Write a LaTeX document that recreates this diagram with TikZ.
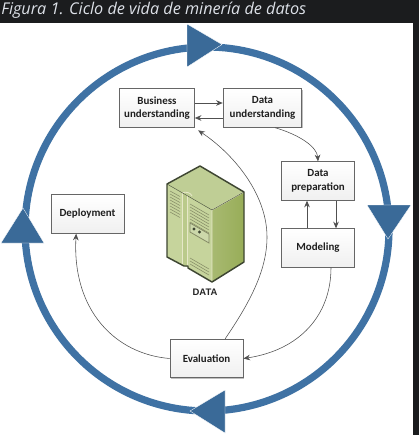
\documentclass[tikz,border=0pt]{standalone}
\usepackage{fontspec}
\setmainfont{Carlito}
\newfontfamily\titlefont{Open Sans}
\newfontfamily\datafont{Liberation Sans}
\usetikzlibrary{arrows.meta,shadows,calc}
\definecolor{bgdark}{HTML}{1B1C1E}
\definecolor{ringblue}{HTML}{3F72A4}
\definecolor{triblue}{HTML}{3A6A98}
\definecolor{titlecol}{HTML}{DDE1E8}
\definecolor{linkgray}{HTML}{505050}
\definecolor{srvline}{HTML}{3E4632}
\definecolor{srvtop}{HTML}{BFCE95}
\definecolor{srvfront}{HTML}{C6D49C}
\definecolor{srvside}{HTML}{98AD58}
\definecolor{srvedge}{HTML}{E6E8C8}
\definecolor{srvlouv}{HTML}{858B66}
\tikzset{
  x=0.75pt,y=-0.75pt,
  procbox/.style={draw=black!60,line width=0.6pt,top color=white,bottom color=black!6,
    minimum width=#1,minimum height=28.9pt,inner sep=0pt,align=center,
    font=\fontsize{8.2}{10.2}\selectfont\bfseries,text=black!88,
    drop shadow={shadow xshift=0.7pt,shadow yshift=-0.7pt,opacity=0.25,fill=black}},
  procbox/.default=54.75pt,
  link/.style={draw=linkgray,line width=0.6pt,-{Stealth[length=5pt,width=4.2pt]}},
  thinlink/.style={draw=linkgray,line width=0.42pt,-{Stealth[length=5pt,width=4.2pt]}},
  ringtip/.style={fill=triblue,draw=white,line width=0.25pt,line join=miter},
  louver/.style={draw=srvlouv,line width=0.4pt},
}
\begin{document}
\begin{tikzpicture}
\useasboundingbox (0,0) rectangle (419,435);
\fill[bgdark] (0,0) rectangle (419,435);
\fill[white] (0,23) rectangle (413,435);
\node[anchor=west,inner sep=0pt,text=titlecol,font=\titlefont\itshape\fontsize{12.15}{14}\selectfont] (title) at (1,10) {Figura 1. Ciclo de vida de minería de datos};

% ring
\draw[ringblue,line width=5.4pt] (207,229) circle[radius=182];
\fill[ringtip] (187,24) -- (222,44.5) -- (187,67) -- cycle;
\fill[ringtip] (367,205) -- (411,205) -- (388,239) -- cycle;
\fill[ringtip] (1,243) -- (44,243) -- (23,208) -- cycle;
\fill[ringtip] (225,390) -- (225,433) -- (190,411) -- cycle;

% boxes
\node[procbox=56pt] (bu) at (157,108) {Business\\understanding};
\node[procbox=59pt] (du) at (262.5,108) {Data\\understanding};
\node[procbox] (dp) at (318,181) {Data\\preparation};
\node[procbox] (mo) at (318,248) {Modeling};
\node[procbox] (ev) at (206.5,358.5) {Evaluation};
\node[procbox] (de) at (87.5,214) {Deployment};

% connectors
\draw[link] ([yshift=3.75pt]bu.east) -- ([yshift=3.75pt]du.west);
\draw[link] ([yshift=-7.5pt]du.west) -- ([yshift=-7.5pt]bu.east);
\draw[link] ([xshift=-8.25pt]mo.north) -- ([xshift=-8.25pt]dp.south);
\draw[link] ([xshift=13.5pt]dp.south) -- ([xshift=13.5pt]mo.north);
\draw[thinlink] ([xshift=9.4pt]du.south) .. controls (300,135) and (317,147) .. (dp.north);
\draw[thinlink] ([xshift=9.75pt]mo.south) .. controls (331,315) and (300,350) .. (ev.east);
\coordinate (evpeak) at (267,237);
\draw[thinlink] ([xshift=14pt]ev.north) .. controls (248,305) and (267,272) .. (evpeak)
   .. controls (267,195) and (235,155) .. ([xshift=2.6pt,yshift=-2pt]bu.south east);
\draw[thinlink] (ev.west) .. controls (115,354) and (72,310) .. ([xshift=-8.5pt]de.south);

% server
\fill[srvtop] (200,166) -- (244,192) -- (212,210) -- (167,184) -- cycle;
\fill[srvfront] (167,184) -- (212,210) -- (212,282) -- (188,268) -- (188,266) -- (184,266) -- (167,257) -- cycle;
\shade[left color=srvside!85!white,right color=srvside] (212,210) -- (244,192) -- (244,262) -- (212,282) -- cycle;
\fill[srvfront!75!srvside] (182,193) -- (187,196) -- (187,267) -- (182,265) -- cycle;
\draw[srvedge,line width=0.7pt] (182,193) -- (182,265) (187,196) -- (187,267);
\draw[srvedge,line width=0.6pt] (182,193) .. controls (186,191) and (191,193) .. (192,196);
\draw[srvedge,line width=0.7pt] (212,210) -- (212,282) (212,210) -- (244,192);
\foreach \k in {0,...,7} {
  \draw[louver] (170,{191+\k*3}) -- (180,{196.5+\k*3});
}
\foreach \k in {0,...,7} {
  \draw[louver] (190,{204+\k*3}) -- (209,{215+\k*3});
}
\foreach \k in {0,1,2} {
  \draw[louver] (190,{258+\k*3}) -- (209,{269+\k*3});
}
\fill[srvtop!80!white,draw=srvlouv,line width=0.6pt] (190,223) -- (209,234) -- (209,243) -- (190,232) -- cycle;
\fill[srvline] (194,229) circle[radius=1.7] (199.5,232) circle[radius=1.7];
\draw[srvline,line width=1.1pt,line join=round] (200,166) -- (244,192) -- (244,262) -- (212,282) -- (188,268) -- (188,266) -- (184,266) -- (167,257) -- (167,184) -- cycle;
\draw[srvline,line width=0.3pt] (167,184) -- (212,210) -- (244,192);
\node[inner sep=0pt,text=black!85,font=\datafont\bfseries\fontsize{7.1}{8}\selectfont] (data) at (205,292) {DATA};
\end{tikzpicture}
\end{document}
